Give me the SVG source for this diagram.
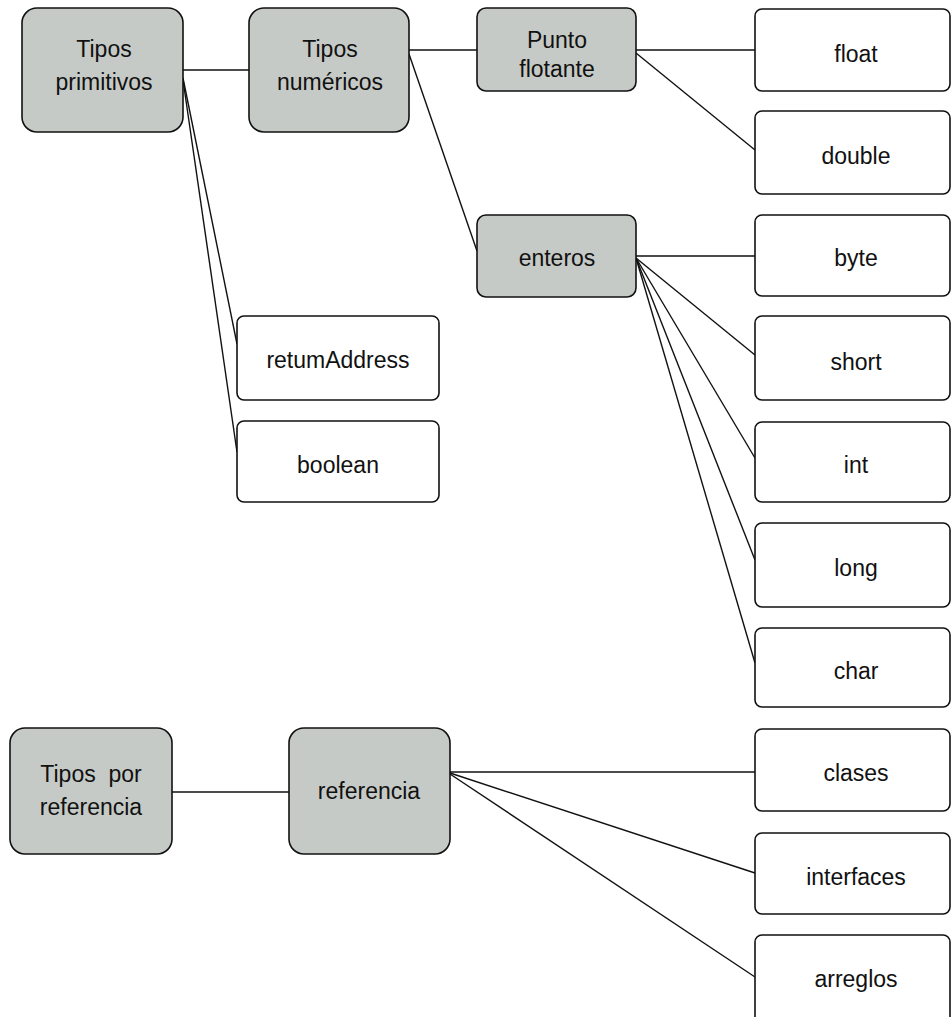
<svg xmlns="http://www.w3.org/2000/svg" width="951" height="1017" viewBox="0 0 951 1017">
  <style>
    .cat { fill: #c6cac6; stroke: #111; stroke-width: 1.6; }
    .leaf { fill: #ffffff; stroke: #111; stroke-width: 1.6; }
    .lbl { font-family: "Liberation Sans", Arial, sans-serif; font-size: 23px; fill: #111; text-anchor: middle; }
    .conn line { stroke: #111; stroke-width: 1.4; }
  </style>
  <rect width="951" height="1017" fill="#ffffff"/>

  <!-- connectors -->
  <g id="connectors" class="conn">
    <line x1="183" y1="70" x2="249" y2="70"/>
    <line x1="183" y1="78" x2="237" y2="344"/>
    <line x1="183" y1="80" x2="237" y2="452"/>
    <line x1="409" y1="50" x2="477" y2="50"/>
    <line x1="409" y1="54" x2="477" y2="251"/>
    <line x1="636" y1="50" x2="755" y2="50"/>
    <line x1="636" y1="53" x2="755" y2="150"/>
    <line x1="636" y1="256" x2="755" y2="256"/>
    <line x1="636" y1="258" x2="755" y2="355"/>
    <line x1="636" y1="258" x2="755" y2="458"/>
    <line x1="636" y1="258" x2="755" y2="560"/>
    <line x1="636" y1="258" x2="755" y2="663"/>
    <line x1="172" y1="792" x2="289" y2="792"/>
    <line x1="450" y1="772" x2="755" y2="772"/>
    <line x1="450" y1="773" x2="755" y2="873"/>
    <line x1="450" y1="774" x2="755" y2="977"/>
  </g>

  <!-- category nodes -->
  <g id="tipos-primitivos">
    <rect class="cat" x="22" y="8" width="161" height="124" rx="15"/>
    <text class="lbl" x="104" y="57">Tipos</text>
    <text class="lbl" x="104" y="90">primitivos</text>
  </g>
  <g id="tipos-numericos">
    <rect class="cat" x="249" y="8" width="160" height="124" rx="15"/>
    <text class="lbl" x="330" y="57">Tipos</text>
    <text class="lbl" x="330" y="90">numéricos</text>
  </g>
  <g id="punto-flotante">
    <rect class="cat" x="477" y="8" width="159" height="83" rx="9"/>
    <text class="lbl" x="557" y="48">Punto</text>
    <text class="lbl" x="557" y="77">flotante</text>
  </g>
  <g id="enteros">
    <rect class="cat" x="477" y="215" width="159" height="82" rx="9"/>
    <text class="lbl" x="557" y="266">enteros</text>
  </g>
  <g id="tipos-por-referencia">
    <rect class="cat" x="10" y="728" width="162" height="126" rx="15"/>
    <text class="lbl" x="91" y="782" xml:space="preserve">Tipos  por</text>
    <text class="lbl" x="91" y="815">referencia</text>
  </g>
  <g id="referencia">
    <rect class="cat" x="289" y="728" width="161" height="126" rx="15"/>
    <text class="lbl" x="369" y="799">referencia</text>
  </g>

  <!-- leaf nodes -->
  <g id="returnaddress">
    <rect class="leaf" x="237" y="316" width="202" height="84" rx="7"/>
    <text class="lbl" x="338" y="368">retumAddress</text>
  </g>
  <g id="boolean">
    <rect class="leaf" x="237" y="421" width="202" height="81" rx="7"/>
    <text class="lbl" x="338" y="473">boolean</text>
  </g>
  <g id="float">
    <rect class="leaf" x="755" y="9" width="195" height="82" rx="7"/>
    <text class="lbl" x="856" y="62">float</text>
  </g>
  <g id="double">
    <rect class="leaf" x="755" y="111" width="195" height="83" rx="7"/>
    <text class="lbl" x="856" y="164">double</text>
  </g>
  <g id="byte">
    <rect class="leaf" x="755" y="215" width="195" height="81" rx="7"/>
    <text class="lbl" x="856" y="266">byte</text>
  </g>
  <g id="short">
    <rect class="leaf" x="755" y="316" width="195" height="84" rx="7"/>
    <text class="lbl" x="856" y="370">short</text>
  </g>
  <g id="int">
    <rect class="leaf" x="755" y="422" width="195" height="80" rx="7"/>
    <text class="lbl" x="856" y="473">int</text>
  </g>
  <g id="long">
    <rect class="leaf" x="755" y="523" width="195" height="84" rx="7"/>
    <text class="lbl" x="856" y="576">long</text>
  </g>
  <g id="char">
    <rect class="leaf" x="755" y="628" width="195" height="79" rx="7"/>
    <text class="lbl" x="856" y="679">char</text>
  </g>
  <g id="clases">
    <rect class="leaf" x="755" y="729" width="195" height="82" rx="7"/>
    <text class="lbl" x="856" y="781">clases</text>
  </g>
  <g id="interfaces">
    <rect class="leaf" x="755" y="833" width="195" height="81" rx="7"/>
    <text class="lbl" x="856" y="885">interfaces</text>
  </g>
  <g id="arreglos">
    <rect class="leaf" x="755" y="935" width="195" height="90" rx="7"/>
    <text class="lbl" x="856" y="987">arreglos</text>
  </g>
</svg>
